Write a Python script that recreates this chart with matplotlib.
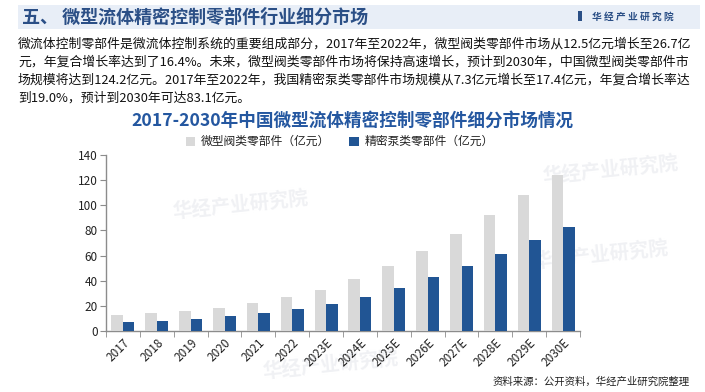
import matplotlib
matplotlib.use("Agg")
import matplotlib.pyplot as plt
import numpy as np
from matplotlib.patches import Rectangle

plt.rcParams['font.family'] = ['Noto Sans CJK SC', 'DejaVu Sans']

categories = ['2017', '2018', '2019', '2020', '2021', '2022', '2023E', '2024E',
              '2025E', '2026E', '2027E', '2028E', '2029E', '2030E']
valve = [12.5, 14.2, 15.6, 18.0, 22.0, 26.7, 33.0, 41.0, 51.4, 63.4, 76.8, 92.0, 108.0, 124.2]
pump = [7.3, 8.3, 9.3, 11.6, 14.0, 17.4, 21.8, 27.4, 34.6, 42.6, 51.4, 61.0, 72.0, 83.1]
series_names = ['微型阀类零部件（亿元）', '精密泵类零部件（亿元）']
yticks = [0, 20, 40, 60, 80, 100, 120, 140]

W, H = 705, 392
fig = plt.figure(figsize=(W / 100, H / 100), dpi=100)
fig.patch.set_facecolor('white')

def fx(x):
    return x / W

def fy(y):
    return 1 - y / H

# faint watermarks (behind everything)
for (x, y) in [(240, 205), (610, 170), (600, 255), (330, 365)]:
    fig.text(fx(x), fy(y), '华经产业研究院', fontsize=14, color='#f0f1f4', fontweight='bold',
             rotation=6, ha='center', va='center', zorder=-5)

# header band
fig.patches.append(Rectangle((fx(18), fy(29)), fx(700) - fx(18), fy(5) - fy(29),
                             transform=fig.transFigure, facecolor='#e8eef7', edgecolor='none', zorder=1))
fig.text(fx(22), fy(17), '五、 微型流体精密控制零部件行业细分市场', fontsize=13, fontweight='bold',
         color='#2b4f86', ha='left', va='center', zorder=2)
fig.patches.append(Rectangle((fx(578), fy(21)), 4 / W, 10 / H, transform=fig.transFigure,
                             facecolor='#2b4f86', edgecolor='none', zorder=2))
fig.text(fx(592), fy(17), '华 经 产 业 研 究 院', fontsize=7, fontweight='bold',
         color='#2b4f86', ha='left', va='center', zorder=2)

# paragraph
lines = [
    '微流体控制零部件是微流体控制系统的重要组成部分，2017年至2022年，微型阀类零部件市场从12.5亿元增长至26.7亿',
    '元，年复合增长率达到了16.4%。未来，微型阀类零部件市场将保持高速增长，预计到2030年，中国微型阀类零部件市',
    '场规模将达到124.2亿元。2017年至2022年，我国精密泵类零部件市场规模从7.3亿元增长至17.4亿元，年复合增长率达',
    '到19.0%，预计到2030年可达83.1亿元。',
]
line_y = [44, 62, 80, 98]
renderer = fig.canvas.get_renderer()
txts = []
for i, (ln, y) in enumerate(zip(lines, line_y)):
    t = fig.text(fx(18), fy(y), ln, fontsize=9, color='#111111', ha='left', va='center', zorder=2)
    txts.append(t)
target = 690 - 18
for t in txts[:3]:
    w = t.get_window_extent(renderer).width
    t.set_fontsize(9 * target / w)
txts[3].set_fontsize(txts[2].get_fontsize())

# chart title
fig.text(fx(352), fy(121), '2017-2030年中国微型流体精密控制零部件细分市场情况', fontsize=12.7,
         fontweight='bold', color='#2457a0', ha='center', va='center', zorder=2)

# axes
ax = fig.add_axes([fx(106), fy(331), fx(580) - fx(106), fy(155) - fy(331)])
ax.set_zorder(3)
ax.set_facecolor('none')
x = np.arange(len(categories))
bw = 0.34
ax.bar(x - bw / 2, valve, width=bw, color='#d9d9d9', label=series_names[0], zorder=3)
ax.bar(x + bw / 2, pump, width=bw, color='#215594', label=series_names[1], zorder=3)
ax.set_xlim(-0.5, len(categories) - 0.5)
ax.set_ylim(0, 140)
ax.set_yticks(yticks)
ax.set_yticklabels([str(v) for v in yticks], fontsize=8.5, color='#222222')
ax.set_xticks(x)
ax.set_xticklabels(categories, rotation=45, ha='right', rotation_mode='anchor', fontsize=8.5, color='#222222')
ax.tick_params(axis='x', which='major', length=0, pad=4)
ax.set_xticks(np.arange(len(categories) + 1) - 0.5, minor=True)
ax.tick_params(axis='x', which='minor', length=4, color='#8c8c8c', direction='out')
ax.tick_params(axis='y', length=4, color='#8c8c8c', direction='out', pad=2)
for s in ['top', 'right']:
    ax.spines[s].set_visible(False)
for s in ['left', 'bottom']:
    ax.spines[s].set_color('#8c8c8c')
    ax.spines[s].set_linewidth(1)

leg = ax.legend(loc='lower left', ncol=2, frameon=False, fontsize=8.5, handlelength=0.8, handleheight=0.8,
                columnspacing=1.6, handletextpad=0.5, borderaxespad=0)
leg.set_bbox_to_anchor((fx(181), fy(153)), transform=fig.transFigure)
for t in leg.get_texts():
    t.set_color('#222222')

fig.text(fx(690), fy(382), '资料来源：公开资料，华经产业研究院整理', fontsize=7.5, color='#222222',
         ha='right', va='center')

fig.savefig('out.png', dpi=100)
